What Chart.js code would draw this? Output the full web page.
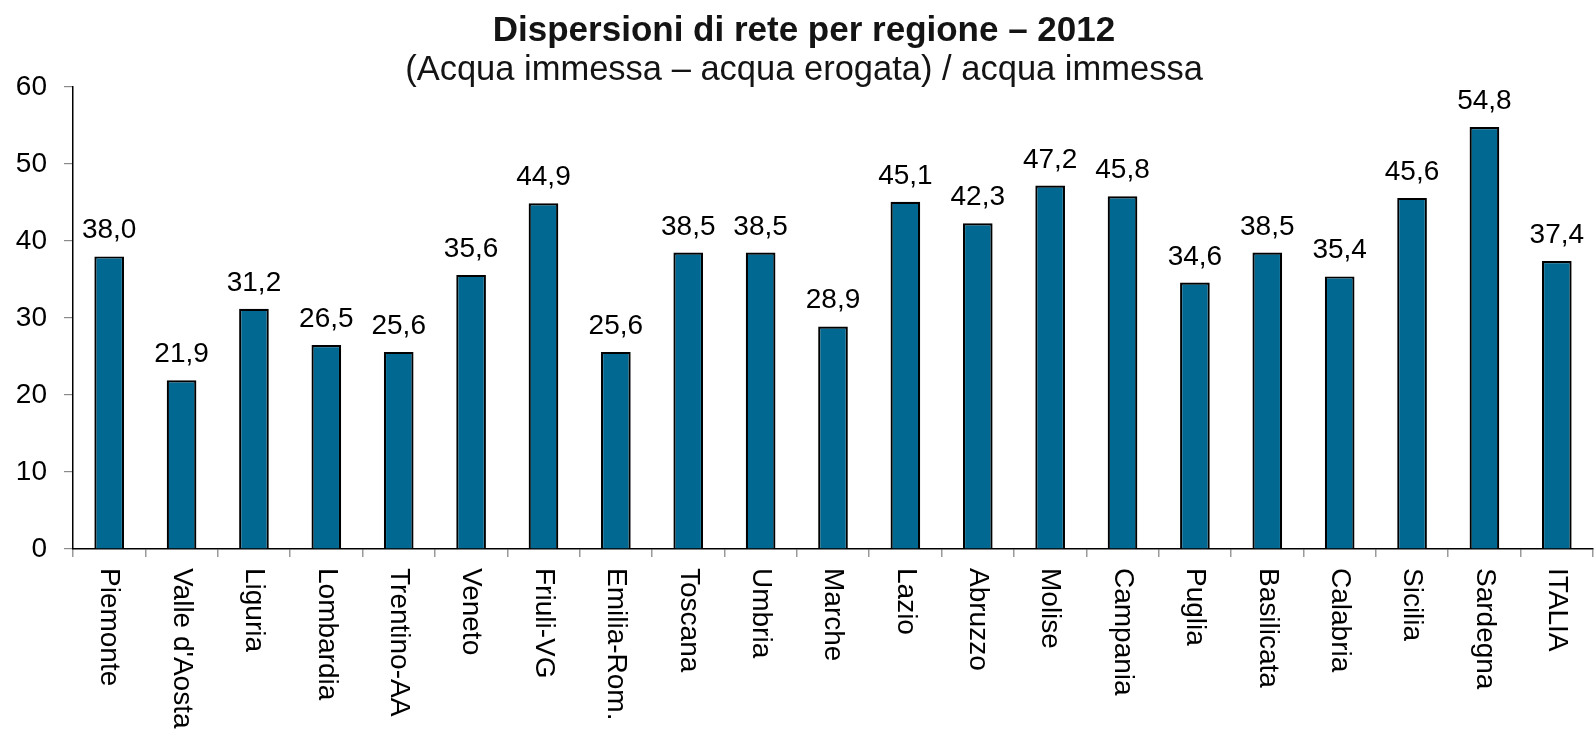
<!DOCTYPE html>
<html lang="it">
<head>
<meta charset="utf-8">
<title>Dispersioni di rete per regione – 2012</title>
<script src="https://cdn.jsdelivr.net/npm/chart.js@4/dist/chart.umd.min.js"></script>
<style>
  html, body { margin: 0; padding: 0; background: #ffffff; }
  canvas { display: block; }
</style>
</head>
<body>
<canvas id="chart" width="1594" height="738"></canvas>
<script>
// Regioni e dispersioni di rete (%), anno 2012
const regioni = [
  "Piemonte", "Valle d'Aosta", "Liguria", "Lombardia", "Trentino-AA", "Veneto",
  "Friuli-VG", "Emilia-Rom.", "Toscana", "Umbria", "Marche", "Lazio", "Abruzzo",
  "Molise", "Campania", "Puglia", "Basilicata", "Calabria", "Sicilia", "Sardegna", "ITALIA"
];
const dispersioni = [
  38.0, 21.9, 31.2, 26.5, 25.6, 35.6,
  44.9, 25.6, 38.5, 38.5, 28.9, 45.1, 42.3,
  47.2, 45.8, 34.6, 38.5, 35.4, 45.6, 54.8, 37.4
];
const yTicks = [0, 10, 20, 30, 40, 50, 60];

const titolo = "Dispersioni di rete per regione – 2012";
const sottotitolo = "(Acqua immessa – acqua erogata) / acqua immessa";

const FONT = "'Liberation Sans', Arial, Helvetica, sans-serif";
const fmt = v => v.toFixed(1).replace('.', ',');

// Titolo, etichette dei valori e nomi delle regioni (ruotati di 90°)
const decorazioni = {
  id: 'decorazioni',
  afterDatasetsDraw(chart) {
    const ctx = chart.ctx;
    const meta = chart.getDatasetMeta(0);
    const xScale = chart.scales.x;

    ctx.save();
    ctx.fillStyle = '#000';
    ctx.font = `28px ${FONT}`;
    ctx.textAlign = 'center';
    ctx.textBaseline = 'alphabetic';
    meta.data.forEach((bar, i) => {
      ctx.fillText(fmt(dispersioni[i]), bar.x, bar.y - 18);
    });

    ctx.textAlign = 'left';
    ctx.textBaseline = 'middle';
    regioni.forEach((nome, i) => {
      const x = xScale.getPixelForTick(i);
      ctx.save();
      ctx.translate(x, xScale.top + 19);
      ctx.rotate(Math.PI / 2);
      ctx.fillText(nome, 0, 0);
      ctx.restore();
    });

    ctx.fillStyle = '#141414';
    ctx.textAlign = 'center';
    ctx.textBaseline = 'alphabetic';
    ctx.font = `bold 35px ${FONT}`;
    ctx.fillText(titolo, 804, 41);
    ctx.font = `34.5px ${FONT}`;
    ctx.fillText(sottotitolo, 804, 80);
    ctx.restore();
  }
};

new Chart(document.getElementById('chart'), {
  type: 'bar',
  data: {
    labels: regioni,
    datasets: [{
      data: dispersioni,
      backgroundColor: '#006891',
      borderColor: '#000000',
      borderWidth: 2.2,
      borderSkipped: 'bottom',
      barPercentage: 0.41,
      categoryPercentage: 1.0
    }]
  },
  options: {
    responsive: false,
    animation: false,
    layout: { padding: { top: 87, right: 1, left: 0, bottom: 0 } },
    plugins: {
      legend: { display: false },
      title: { display: false },
      tooltip: { enabled: false }
    },
    scales: {
      x: {
        grid: {
          display: true,
          drawOnChartArea: false,
          drawTicks: true,
          tickLength: 8,
          color: '#9a9a9a',
          lineWidth: 1.5
        },
        border: { display: true, color: '#000', width: 1.5 },
        ticks: { display: false },
        afterFit(scale) { scale.height = 189; }
      },
      y: {
        min: 0,
        max: 60,
        afterBuildTicks(scale) { scale.ticks = yTicks.map(v => ({ value: v })); },
        grid: {
          display: true,
          drawOnChartArea: false,
          drawTicks: true,
          tickLength: 9,
          color: '#8a8a8a',
          lineWidth: 1.2
        },
        border: { display: true, color: '#000', width: 1.5 },
        ticks: {
          color: '#000',
          padding: 17,
          font: { family: FONT, size: 28 },
          callback: v => String(v)
        },
        afterFit(scale) { scale.width = 73; }
      }
    }
  },
  plugins: [decorazioni]
});
</script>
</body>
</html>
